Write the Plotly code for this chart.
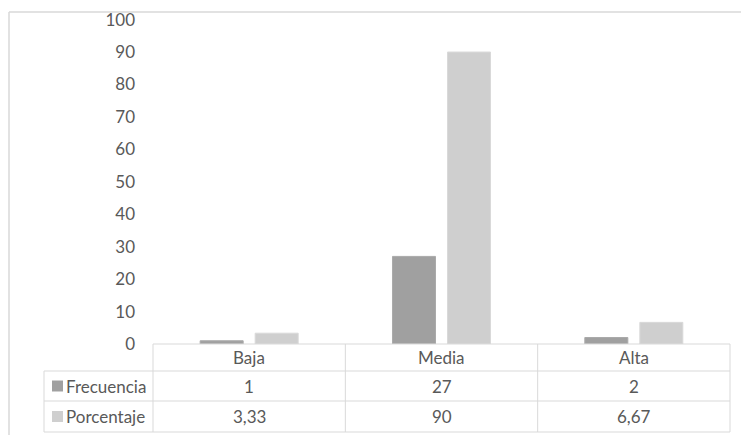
import plotly.graph_objects as go

categorias = ["Baja", "Media", "Alta"]
frecuencia = [1, 27, 2]
porcentaje = [3.33, 90, 6.67]
series_nombres = ["Frecuencia", "Porcentaje"]
y_ticks = [0, 10, 20, 30, 40, 50, 60, 70, 80, 90, 100]

W, H = 741, 435
C_FREC = "#A0A0A0"
C_PORC = "#CFCFCF"
E_FREC = "#AAAAAA"
E_PORC = "#D9D9D9"
GRID = "#D9D9D9"
TXT = "#595959"
FONT = "Lato"
FS = 17

def px(x):
    return x / W

def py(y):
    return 1 - y / H

x0, x1 = 153, 730
y_zero, y_top = 344, 19.6

fig = go.Figure()
fig.add_trace(go.Bar(x=categorias, y=frecuencia, name=series_nombres[0],
                     marker=dict(color=C_FREC, line=dict(width=1, color=E_FREC))))
fig.add_trace(go.Bar(x=categorias, y=porcentaje, name=series_nombres[1],
                     marker=dict(color=C_PORC, line=dict(width=1, color=E_PORC))))

fmt = lambda v: (("%g" % v).replace(".", ","))

shapes = []
annotations = []
line = dict(color=GRID, width=1)
# outer chart border (top and left)
shapes.append(dict(type="line", xref="paper", yref="paper", x0=px(9), x1=1.0, y0=py(12), y1=py(12), line=dict(color=GRID, width=1.5)))
shapes.append(dict(type="line", xref="paper", yref="paper", x0=px(9), x1=px(9), y0=py(12), y1=0, line=dict(color=GRID, width=1.5)))

# data table
rows = [344, 371, 401, 432]
label_left = 44
ncol = len(categorias)
colw = (x1 - x0) / ncol
cols = [x0 + i * colw for i in range(ncol + 1)]
shapes.append(dict(type="line", xref="paper", yref="paper", x0=px(x0), x1=px(x1), y0=py(rows[0]), y1=py(rows[0]), line=line))
for r in rows[1:]:
    shapes.append(dict(type="line", xref="paper", yref="paper", x0=px(label_left), x1=px(x1), y0=py(r), y1=py(r), line=line))
for c in cols:
    shapes.append(dict(type="line", xref="paper", yref="paper", x0=px(c), x1=px(c), y0=py(rows[0]), y1=py(rows[-1]), line=line))
shapes.append(dict(type="line", xref="paper", yref="paper", x0=px(label_left), x1=px(label_left), y0=py(rows[1]), y1=py(rows[-1]), line=line))

def ann(x, y, text, xanchor="center"):
    return dict(x=px(x), y=py(y), xref="paper", yref="paper", text=text, xanchor=xanchor, yanchor="middle",
                showarrow=False, font=dict(size=FS, color=TXT, family=FONT))

for i, cat in enumerate(categorias):
    xc = (cols[i] + cols[i + 1]) / 2
    annotations.append(ann(xc, (rows[0] + rows[1]) / 2, cat))
    annotations.append(ann(xc, (rows[1] + rows[2]) / 2, fmt(frecuencia[i])))
    annotations.append(ann(xc, (rows[2] + rows[3]) / 2, fmt(porcentaje[i])))

for k, (name, col) in enumerate(zip(series_nombres, [C_FREC, C_PORC])):
    yc = (rows[k + 1] + rows[k + 2]) / 2
    shapes.append(dict(type="rect", xref="paper", yref="paper", x0=px(52), x1=px(63), y0=py(yc - 5.5), y1=py(yc + 5.5),
                       fillcolor=col, line=dict(width=0)))
    annotations.append(ann(64, yc, name, xanchor="left"))

fig.update_layout(
    template="none",
    width=W, height=H,
    margin=dict(l=0, r=0, t=0, b=0, pad=0, autoexpand=False),
    paper_bgcolor="white", plot_bgcolor="white",
    showlegend=False,
    barmode="group", bargap=0.428, bargroupgap=0.218,
    font=dict(family=FONT, color=TXT, size=FS),
    xaxis=dict(domain=[px(x0), px(x1)], showticklabels=False, showgrid=False, zeroline=False,
               showline=False, ticks="", automargin=False),
    yaxis=dict(domain=[py(y_zero), py(y_top)], range=[0, 100], tickvals=y_ticks,
               showgrid=False, zeroline=False, showline=False, ticks="", automargin=False,
               ticklabelstandoff=17, tickfont=dict(size=FS, color=TXT, family=FONT)),
    shapes=shapes, annotations=annotations,
)

fig.write_html(
    "out.html",
    config={"displayModeBar": False, "staticPlot": True},
    post_script=(
        "document.documentElement.style.margin='0';"
        "document.body.style.margin='0';"
        "document.body.style.overflow='hidden';"
        "var gd=document.getElementById('{plot_id}');"
        "gd.style.position='fixed';gd.style.top='0px';gd.style.left='0px';"
    ),
)
